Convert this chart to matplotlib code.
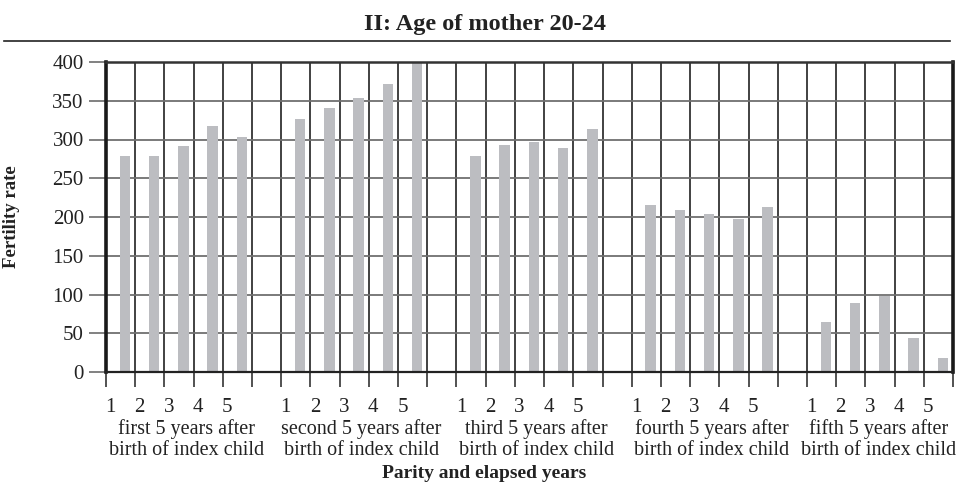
import matplotlib
matplotlib.use("Agg")
import matplotlib.pyplot as plt
from matplotlib.lines import Line2D
import numpy as np

# ---------------- data ----------------
title = "II: Age of mother 20-24"
y_label = "Fertility rate"
x_label = "Parity and elapsed years"
year_labels = ["1", "2", "3", "4", "5"]
group_labels = [
    "first 5 years after\nbirth of index child",
    "second 5 years after\nbirth of index child",
    "third 5 years after\nbirth of index child",
    "fourth 5 years after\nbirth of index child",
    "fifth 5 years after\nbirth of index child",
]
first_5 = [279, 279, 292, 317, 303]
second_5 = [327, 341, 353, 371, 400]
third_5 = [279, 293, 297, 289, 314]
fourth_5 = [216, 209, 204, 198, 213]
fifth_5 = [64, 89, 98, 44, 18]
series = [first_5, second_5, third_5, fourth_5, fifth_5]
y_ticks = [0, 50, 100, 150, 200, 250, 300, 350, 400]

# ---------------- layout ----------------
W, H = 964, 484
fig = plt.figure(figsize=(W / 100, H / 100), dpi=100)
plt.rcParams['font.family'] = ['Liberation Serif', 'DejaVu Serif']
ax = fig.add_axes([106 / W, 1 - 372 / H, (953 - 106) / W, (372 - 62) / H])
ax_h = 372 - 62

slots_per_group = len(year_labels) + 1
n_slots = slots_per_group * len(series) - 1
bar_color = "#bcbdc1"
text_color = "#222222"

for g, vals in enumerate(series):
    start = g * slots_per_group
    xs = start + np.arange(len(vals)) + 0.65
    ax.bar(xs, vals, width=0.36, color=bar_color, zorder=2, linewidth=0)

ax.set_xlim(0, n_slots)
ax.set_ylim(0, 400)

# vertical grid at slot boundaries
ax.set_xticks(np.arange(0, n_slots + 1))
ax.set_xticklabels([])
ax.tick_params(axis='x', direction='out', length=11, width=1.2, color='#333333')
for x in range(1, n_slots):
    ax.axvline(x, color='#333333', lw=1.3, zorder=1)

# horizontal grid
ax.set_yticks(y_ticks)
ax.set_yticklabels([str(v) for v in y_ticks], fontsize=15, color=text_color)
ax.tick_params(axis='y', direction='out', length=12, width=1.3, color='#777777', pad=4)
for y in y_ticks[1:-1]:
    ax.axhline(y, color='#6f6f6f', lw=1.3, zorder=1)

for side in ['left', 'right']:
    ax.spines[side].set_linewidth(2.6)
    ax.spines[side].set_color('#1a1a1a')
ax.spines['top'].set_linewidth(1.8)
ax.spines['top'].set_color('#333333')
ax.spines['bottom'].set_linewidth(1.6)
ax.spines['bottom'].set_color('#222222')

# x labels: year numbers and group captions
trans = ax.get_xaxis_transform()
for g in range(len(series)):
    start = g * slots_per_group
    for i, lab in enumerate(year_labels):
        ax.text(start + i + 0.15, -(408 - 372) / ax_h, lab, transform=trans, ha='center',
                va='center', fontsize=15, color=text_color)
    cx = start + 2.75 if g < len(series) - 1 else start + 2.45
    ax.text(cx, -(439.5 - 372) / ax_h, group_labels[g], transform=trans, ha='center',
            va='center', fontsize=14.5, color=text_color, linespacing=1.17)

ax.set_ylabel(y_label, fontsize=13.5, fontweight='bold', color=text_color)
ax.yaxis.set_label_coords(-(106 - 20) / (953 - 106), 0.5)
fig.text(484 / W, 1 - 474 / H, x_label, ha='center', va='center', fontsize=14,
         fontweight='bold', color=text_color)

fig.text(485 / W, 1 - 30 / H, title, ha='center', va='baseline', fontsize=17.5,
         fontweight='bold', color=text_color)
fig.add_artist(Line2D([4 / W, 950 / W], [1 - 41 / H, 1 - 41 / H], color='#222222', lw=1.2))

fig.savefig("out.png", dpi=100)
